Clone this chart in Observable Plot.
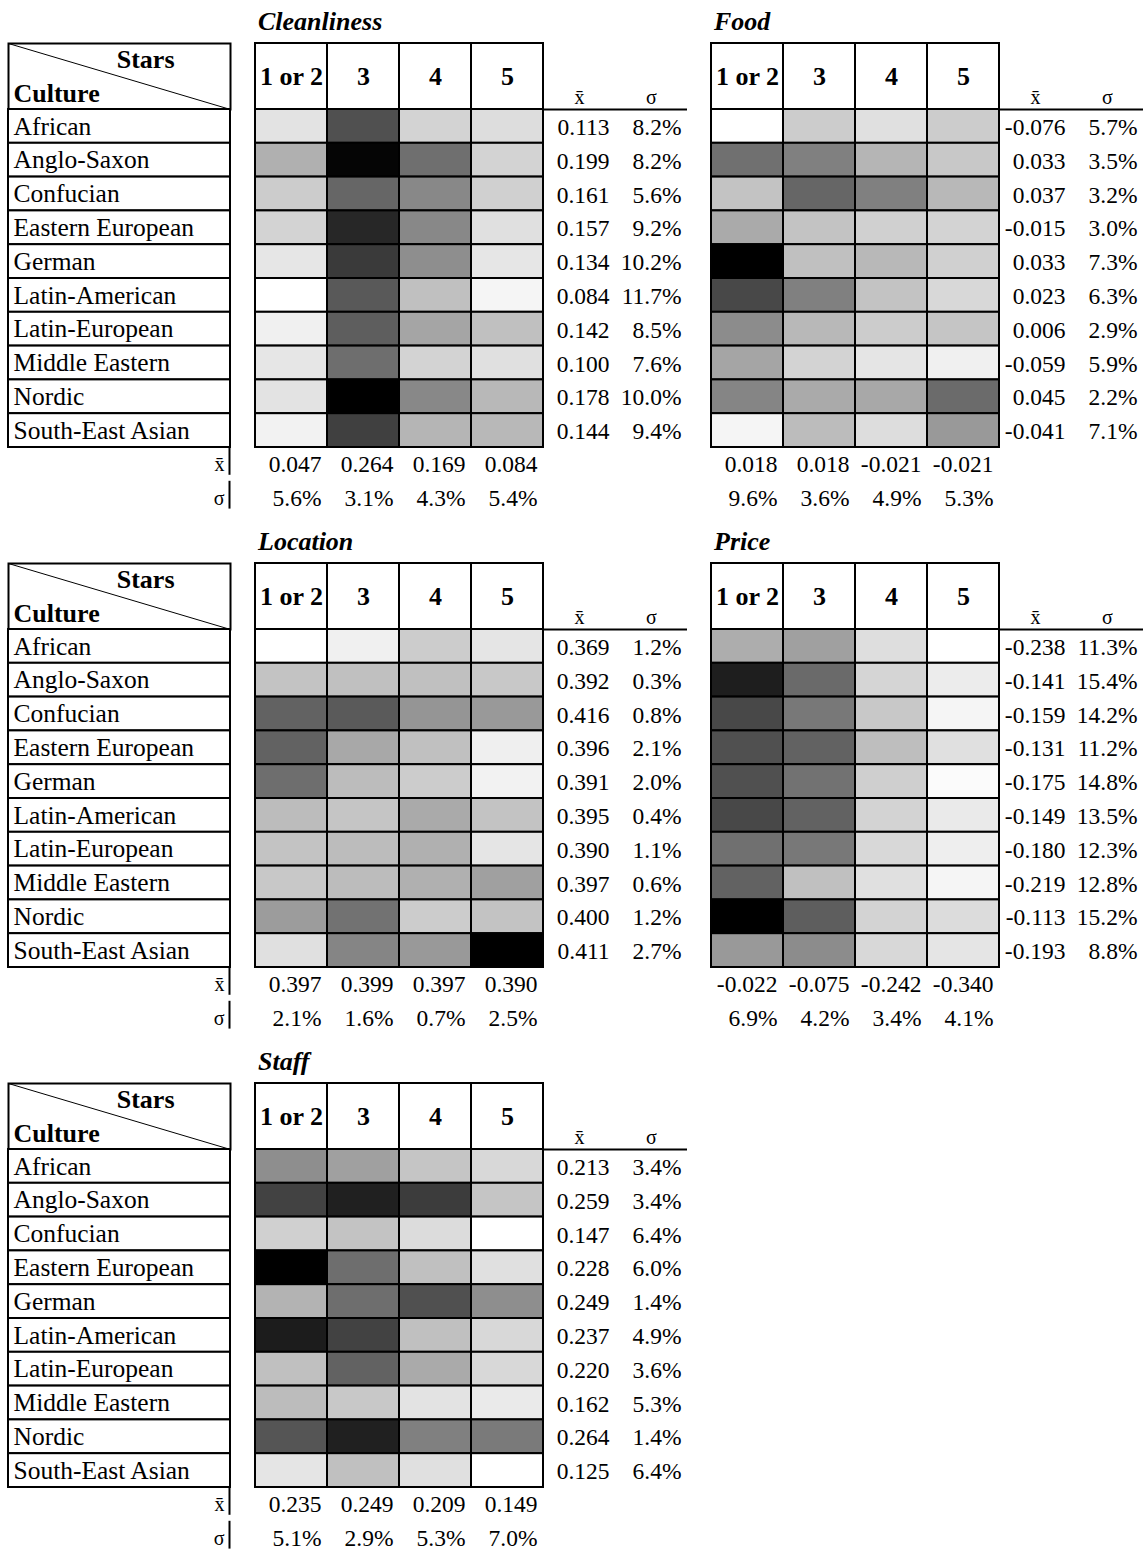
<!DOCTYPE html>
<html><head><meta charset="utf-8">
<script src="https://cdn.jsdelivr.net/npm/d3@7"></script>
<script src="https://cdn.jsdelivr.net/npm/@observablehq/plot@0.6"></script>
<style>
body{margin:0;background:#fff;}
#root{position:relative;width:1146px;height:1550px;font-family:"Liberation Serif","Times New Roman",serif;}
.title{position:absolute;font-weight:bold;font-style:italic;font-size:26px;line-height:26px;white-space:nowrap;color:#000;}
svg{overflow:visible;}
</style></head><body><div id="root"></div>
<script>
// ---------- data ----------
const cultures = ["African","Anglo-Saxon","Confucian","Eastern European","German","Latin-American","Latin-European","Middle Eastern","Nordic","South-East Asian"];
const stars = ["1 or 2","3","4","5"];
const statLabels = ["x̄","σ"];

// grey level of each cell (0 = black, 255 = white), rows = cultures, cols = stars
const cleanlinessShade = [[227,80,211,221],[176,5,111,211],[204,102,136,208],[211,39,136,224],[230,58,142,230],[255,89,192,245],[240,94,165,192],[230,110,211,224],[227,0,136,184],[242,64,181,184]];
const cleanlinessMean = [0.113,0.199,0.161,0.157,0.134,0.084,0.142,0.100,0.178,0.144];
const cleanlinessSD = [8.2,8.2,5.6,9.2,10.2,11.7,8.5,7.6,10.0,9.4];
const cleanlinessColMean = [0.047,0.264,0.169,0.084];
const cleanlinessColSD = [5.6,3.1,4.3,5.4];

const foodShade = [[255,204,224,204],[112,128,181,200],[195,102,128,184],[170,195,208,211],[0,192,184,208],[72,128,195,216],[140,184,204,197],[165,211,229,240],[133,170,168,107],[245,188,221,153]];
const foodMean = [-0.076,0.033,0.037,-0.015,0.033,0.023,0.006,-0.059,0.045,-0.041];
const foodSD = [5.7,3.5,3.2,3.0,7.3,6.3,2.9,5.9,2.2,7.1];
const foodColMean = [0.018,0.018,-0.021,-0.021];
const foodColSD = [9.6,3.6,4.9,5.3];

const locationShade = [[255,240,204,229],[195,192,192,200],[98,90,149,153],[98,168,192,239],[110,188,204,242],[188,197,170,195],[195,188,176,229],[200,188,176,160],[156,114,204,195],[224,133,153,0]];
const locationMean = [0.369,0.392,0.416,0.396,0.391,0.395,0.390,0.397,0.400,0.411];
const locationSD = [1.2,0.3,0.8,2.1,2.0,0.4,1.1,0.6,1.2,2.7];
const locationColMean = [0.397,0.399,0.397,0.390];
const locationColSD = [2.1,1.6,0.7,2.5];

const priceShade = [[173,160,222,255],[30,106,213,236],[72,120,200,245],[80,98,190,224],[80,114,207,251],[72,98,211,234],[112,120,216,238],[98,192,224,245],[0,94,211,220],[153,140,216,229]];
const priceMean = [-0.238,-0.141,-0.159,-0.131,-0.175,-0.149,-0.180,-0.219,-0.113,-0.193];
const priceSD = [11.3,15.4,14.2,11.2,14.8,13.5,12.3,12.8,15.2,8.8];
const priceColMean = [-0.022,-0.075,-0.242,-0.340];
const priceColSD = [6.9,4.2,3.4,4.1];

const staffShade = [[142,160,197,216],[66,32,60,197],[208,195,220,255],[0,110,192,224],[179,110,80,142],[28,66,192,216],[192,98,170,216],[188,200,227,234],[85,32,128,122],[229,192,224,255]];
const staffMean = [0.213,0.259,0.147,0.228,0.249,0.237,0.220,0.162,0.264,0.125];
const staffSD = [3.4,3.4,6.4,6.0,1.4,4.9,3.6,5.3,1.4,6.4];
const staffColMean = [0.235,0.249,0.209,0.149];
const staffColSD = [5.1,2.9,5.3,7.0];

const panelNames = ["Cleanliness","Food","Location","Price","Staff"];
const panelShades = [cleanlinessShade, foodShade, locationShade, priceShade, staffShade];
const panelMeans = [cleanlinessMean, foodMean, locationMean, priceMean, staffMean];
const panelSDs = [cleanlinessSD, foodSD, locationSD, priceSD, staffSD];
const panelColMeans = [cleanlinessColMean, foodColMean, locationColMean, priceColMean, staffColMean];
const panelColSDs = [cleanlinessColSD, foodColSD, locationColSD, priceColSD, staffColSD];

// ---------- layout ----------
const COL = 72, ROW = 33.8, HEAD = 66, LABELW = 222;
const PANEL_STEP = 520, TABLE_TOP = 43, LABEL_LEFT = 8;
const HEAT_LEFT = [255, 711];
const font = '"Liberation Serif","Times New Roman",serif';
const baseStyle = {fontFamily: font, background: "transparent", overflow: "visible", color: "black"};
const xDomain = [...stars, ...statLabels];
const yDomain = [...cultures, ...statLabels];
const fmtMean = v => v.toFixed(3);
const fmtSD = v => v.toFixed(1) + "%";

const root = document.getElementById("root");
function place(node, left, top) {
  node.style.position = "absolute";
  node.style.left = left + "px";
  node.style.top = top + "px";
  node.style.overflow = "visible";
  root.appendChild(node);
}

function headerPlot() {
  return Plot.plot({
    width: COL * 6, height: HEAD, margin: 0, style: baseStyle,
    x: {type: "band", domain: xDomain, padding: 0, round: false, axis: null},
    y: {domain: [0, 1], axis: null},
    marks: [
      Plot.cell(stars, {x: d => d, fill: "white", stroke: "black", strokeWidth: 2, inset: 0}),
      Plot.text(stars, {x: d => d, text: d => d, frameAnchor: "middle", fontWeight: "bold", fontSize: 26}),
      Plot.text(statLabels, {x: d => d, text: d => d, frameAnchor: "bottom", dy: -6, fontSize: 20}),
      Plot.tickY(statLabels, {x: d => d, y: () => 0, stroke: "black", strokeWidth: 2})
    ]
  });
}

function heatPlot(i) {
  const shade = panelShades[i];
  const cells = cultures.flatMap((c, r) => stars.map((s, k) => ({culture: c, stars: s, shade: shade[r][k]})));
  const rowStats = cultures.flatMap((c, r) => [
    {culture: c, col: "x̄", text: fmtMean(panelMeans[i][r])},
    {culture: c, col: "σ", text: fmtSD(panelSDs[i][r])}
  ]);
  const colStats = stars.flatMap((s, k) => [
    {stars: s, row: "x̄", text: fmtMean(panelColMeans[i][k])},
    {stars: s, row: "σ", text: fmtSD(panelColSDs[i][k])}
  ]);
  return Plot.plot({
    width: COL * 6, height: ROW * 12, margin: 0, style: baseStyle,
    x: {type: "band", domain: xDomain, padding: 0, round: false, axis: null},
    y: {type: "band", domain: yDomain, padding: 0, round: false, axis: null},
    color: {type: "linear", domain: [0, 255], range: ["#000000", "#ffffff"], interpolate: "rgb"},
    marks: [
      Plot.cell(cells, {x: "stars", y: "culture", fill: "shade", stroke: "black", strokeWidth: 2, inset: 0}),
      Plot.text(rowStats, {x: "col", y: "culture", text: "text", textAnchor: "end", dx: COL / 2 - 6, dy: 1, fontSize: 23.5}),
      Plot.text(colStats, {x: "stars", y: "row", text: "text", textAnchor: "end", dx: COL / 2 - 6, dy: 0, fontSize: 23.5})
    ]
  });
}

function labelHeaderPlot() {
  return Plot.plot({
    width: LABELW, height: HEAD, margin: 0, style: baseStyle,
    x: {domain: [0, 1], axis: null},
    y: {domain: [0, 1], axis: null},
    marks: [
      Plot.frame({stroke: "black", strokeWidth: 2}),
      Plot.link([{from: "Culture", to: "Stars"}], {x1: () => 0, y1: () => 1, x2: () => 1, y2: () => 0, stroke: "black", strokeWidth: 1}),
      Plot.text(["Stars"], {text: d => d, frameAnchor: "top-right", dx: -56, dy: 6, fontWeight: "bold", fontSize: 26}),
      Plot.text(["Culture"], {text: d => d, frameAnchor: "bottom-left", dx: 5, dy: -8, fontWeight: "bold", fontSize: 26})
    ]
  });
}

function labelPlot() {
  return Plot.plot({
    width: LABELW, height: ROW * 12, margin: 0, style: baseStyle,
    x: {domain: [0, 1], axis: null},
    y: {type: "band", domain: yDomain, padding: 0, round: false, axis: null},
    marks: [
      Plot.cell(cultures, {y: d => d, fill: "white", stroke: "black", strokeWidth: 2, inset: 0}),
      Plot.text(cultures, {y: d => d, text: d => d, frameAnchor: "left", dx: 5, fontSize: 25.5}),
      Plot.text(statLabels, {y: d => d, text: d => d, frameAnchor: "right", dx: -6, fontSize: 20}),
      Plot.tickX(statLabels, {x: () => 1, y: d => d, dx: -1, insetBottom: 6, stroke: "black", strokeWidth: 2})
    ]
  });
}

panelNames.forEach((name, i) => {
  const c = i % 2, r = Math.floor(i / 2);
  const top = TABLE_TOP + r * PANEL_STEP;
  const left = HEAT_LEFT[c];
  const t = document.createElement("div");
  t.className = "title";
  t.textContent = name;
  place(t, left + 3, top - 34);
  place(headerPlot(), left, top);
  place(heatPlot(i), left, top + HEAD);
  if (c === 0) {
    place(labelHeaderPlot(), LABEL_LEFT, top);
    place(labelPlot(), LABEL_LEFT, top + HEAD);
  }
});
</script>
</body></html>
